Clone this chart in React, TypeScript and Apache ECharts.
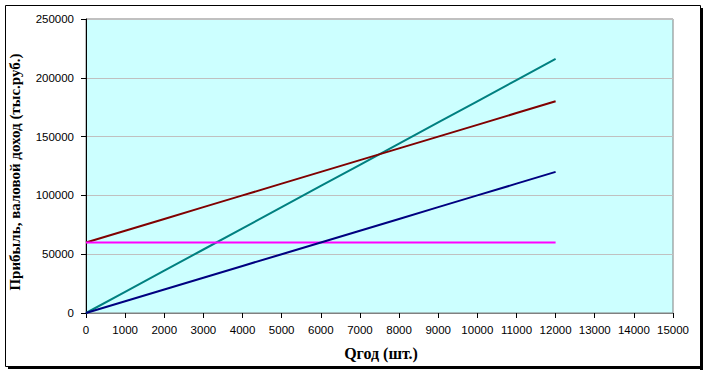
import React, { useEffect, useRef } from "react";
import * as echarts from "echarts";

const quantities = [0, 1000, 2000, 3000, 4000, 5000, 6000, 7000, 8000, 9000, 10000, 11000, 12000];
const revenue = [0, 18000, 36000, 54000, 72000, 90000, 108000, 126000, 144000, 162000, 180000, 198000, 216000];
const totalCosts = [60000, 70000, 80000, 90000, 100000, 110000, 120000, 130000, 140000, 150000, 160000, 170000, 180000];
const variableCosts = [0, 10000, 20000, 30000, 40000, 50000, 60000, 70000, 80000, 90000, 100000, 110000, 120000];
const fixedCosts = [60000, 60000, 60000, 60000, 60000, 60000, 60000, 60000, 60000, 60000, 60000, 60000, 60000];

const xTitle = "Qгод (шт.)";
const yTitle = "Прибыль, валовой доход (тыс.руб.)";

const pairs = (ys: number[]) => quantities.map((q, i) => [q, ys[i]]);

export default function App() {
  const ref = useRef<HTMLDivElement>(null);
  useEffect(() => {
    document.body.style.margin = "0";
    const chart = echarts.init(ref.current!, null, { renderer: "svg" });
    const labelFont = { fontFamily: "Liberation Sans", fontSize: 11.5, color: "#000" };
    const line = (name: string, ys: number[], color: string) => ({
      name,
      type: "line",
      data: pairs(ys),
      showSymbol: false,
      symbol: "none",
      lineStyle: { color, width: 2 },
      itemStyle: { color },
    });
    chart.setOption({
      animation: false,
      backgroundColor: "#fff",
      grid: {
        left: 86,
        top: 19,
        width: 587,
        height: 294,
        show: true,
        backgroundColor: "#CCFFFF",
        borderColor: "#808080",
        borderWidth: 1,
      },
      xAxis: {
        type: "value",
        min: 0,
        max: 15000,
        interval: 1000,
        axisLine: { show: true, lineStyle: { color: "#808080", width: 1 } },
        axisTick: { show: true, length: 5, lineStyle: { color: "#000" } },
        axisLabel: { ...labelFont, margin: 11, formatter: (v: number) => String(v) },
        splitLine: { show: false },
      },
      yAxis: {
        type: "value",
        min: 0,
        max: 250000,
        interval: 50000,
        axisLine: { show: true, lineStyle: { color: "#000", width: 1 } },
        axisTick: { show: true, length: 5, lineStyle: { color: "#000" } },
        axisLabel: { ...labelFont, margin: 12, formatter: (v: number) => String(v) },
        splitLine: { show: true, lineStyle: { color: "#C0C0C0", width: 1 } },
      },
      series: [
        line("Валовой доход", revenue, "#008080"),
        line("Общие затраты", totalCosts, "#800000"),
        line("Постоянные затраты", fixedCosts, "#FF00FF"),
        line("Переменные затраты", variableCosts, "#000080"),
      ],
      graphic: [
        {
          type: "text",
          x: 381,
          y: 353,
          style: {
            text: xTitle,
            font: "bold 16px 'Liberation Serif'",
            fill: "#000",
            align: "center",
            verticalAlign: "middle",
          },
          z: 10,
        },
        {
          type: "text",
          x: 15,
          y: 172,
          rotation: Math.PI / 2,
          style: {
            text: yTitle,
            font: "bold 15px 'Liberation Serif'",
            fill: "#000",
            align: "center",
            verticalAlign: "middle",
          },
          z: 10,
        },
        {
          type: "rect",
          shape: { x: 5.5, y: 5.5, width: 695, height: 361 },
          style: { fill: "none", stroke: "#000", lineWidth: 1 },
          z: 12,
        },
        {
          type: "rect",
          shape: { x: 700, y: 8, width: 3, height: 362 },
          style: { fill: "#000" },
          z: 12,
        },
        {
          type: "rect",
          shape: { x: 8, y: 366, width: 695, height: 3 },
          style: { fill: "#000" },
          z: 12,
        },
      ],
    });
    return () => chart.dispose();
  }, []);
  return <div ref={ref} style={{ width: 709, height: 375 }} />;
}
